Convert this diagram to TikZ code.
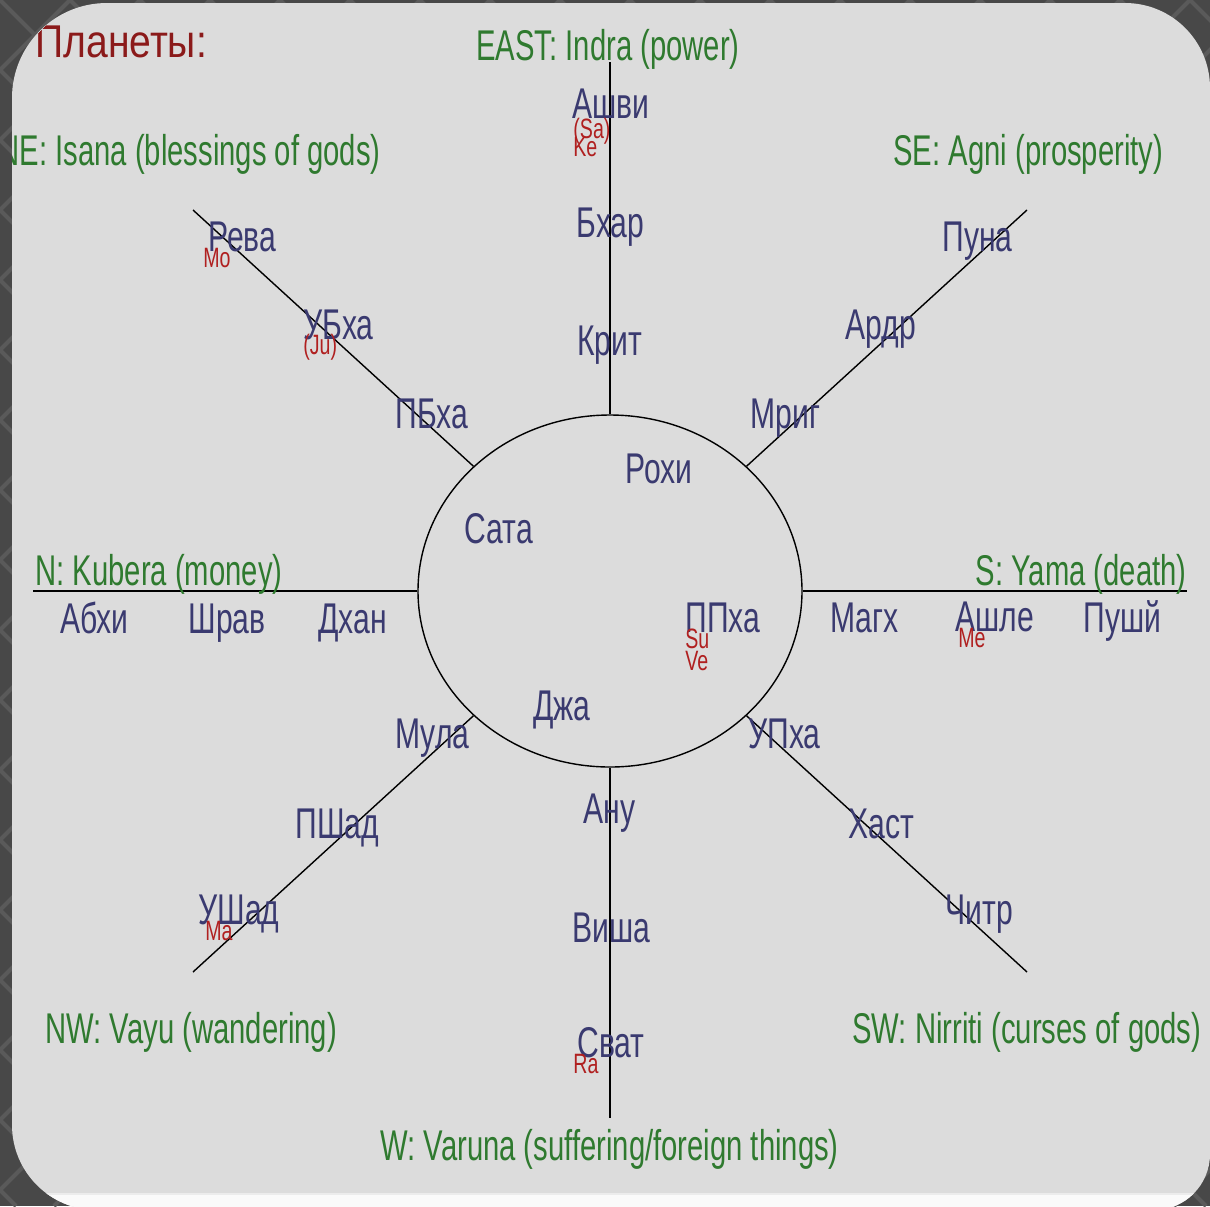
\documentclass[tikz,border=0pt]{standalone}
\usepackage{fontspec}
\setmainfont{Liberation Sans}
\newfontfamily\labfont[FakeStretch=0.7]{Liberation Sans}
\newfontfamily\dirfont[FakeStretch=0.68]{Liberation Sans}
\newfontfamily\planfont[FakeStretch=0.85]{Liberation Sans}
\usetikzlibrary{shapes.geometric}
\definecolor{navy}{HTML}{3A3A70}
\definecolor{dirgreen}{HTML}{2F7A2F}
\definecolor{plred}{HTML}{B02020}
\definecolor{titlered}{HTML}{8B1A1A}
\definecolor{panel}{HTML}{DCDCDC}
\definecolor{bgdark}{HTML}{484848}
\definecolor{bgline}{HTML}{5A5A5A}
\begin{document}
\begin{tikzpicture}[x=0.5pt,y=-0.5pt,
  nak/.style={font=\labfont\fontsize{21.5}{22}\selectfont, text=navy, inner sep=0pt, anchor=base west},
  pl/.style={font=\labfont\fontsize{14}{15}\selectfont, text=plred, inner sep=0pt, anchor=base west},
  dir/.style={font=\dirfont\fontsize{21.5}{22}\selectfont, text=dirgreen, inner sep=0pt, anchor=base west},
  spoke/.style={draw=black, line width=0.7pt}]
\useasboundingbox (0,0) rectangle (1210,1206);
% background
\fill[bgdark] (0,0) rectangle (1210,1206);
\begin{scope}
\clip (0,0) rectangle (1210,1206);
\foreach \k in {-1260,-1190,...,2460}{
  \draw[bgline, line width=2pt] (\k,0) -- ++(1206,1206);
  \draw[bgline, line width=2pt] (\k,0) -- ++(-1206,1206);
}
\end{scope}
% panel
\def\panelpath{(12,98) arc[start angle=180,end angle=270,radius=95] -- (1125,3) arc[start angle=270,end angle=360,radius=85] -- (1210,1154) arc[start angle=0,end angle=90,radius=56] -- (97,1210) arc[start angle=90,end angle=180,radius=85] -- cycle}
\fill[panel] \panelpath;
\begin{scope}
\clip \panelpath;
\fill[white!96!gray] (0,1194) rectangle (1220,1220);
\draw[white!85!gray, line width=0.6pt] (0,1194) -- (1220,1194);

% circle
\node[draw=black, line width=0.7pt, ellipse, minimum width=192pt, minimum height=176pt, inner sep=0pt] (c) at (610,591) {};
% spoke ends
\coordinate (eN) at (610,62);
\coordinate (eS) at (610,1118);
\coordinate (eW) at (33,591);
\coordinate (eE) at (1187,591);
\coordinate (eUL) at (193,210);
\coordinate (eUR) at (1027,210);
\coordinate (eLL) at (193,972);
\coordinate (eLR) at (1027,972);
\foreach \e in {eN,eS,eW,eE,eUL,eUR,eLL,eLR}{\draw[spoke] (c) -- (\e);}

% title
\node[font=\planfont\fontsize{23}{24}\selectfont, text=titlered, inner sep=0pt, anchor=base west] (title) at (35,57) {Планеты:};

% directions
\node[dir] (dE) at (476,60) {EAST: Indra (power)};
\node[dir, anchor=base east] (dNE) at (381,165) {NE: Isana (blessings of gods)};
\node[dir] (dSE) at (893,165) {SE: Agni (prosperity)};
\node[dir] (dN) at (35,585) {N: Kubera (money)};
\node[dir, anchor=base east] (dS) at (1187,585) {S: Yama (death)};
\node[dir] (dNW) at (45,1043) {NW: Vayu (wandering)};
\node[dir] (dSW) at (852,1043) {SW: Nirriti (curses of gods)};
\node[dir] (dW) at (380,1160) {W: Varuna (suffering/foreign things)};

% nakshatras
\node[nak] (n1) at (572,118) {Ашви};
\node[nak] (n2) at (576,237) {Бхар};
\node[nak] (n3) at (577,355) {Крит};
\node[nak] (n4) at (208,251) {Рева};
\node[nak] (n5) at (303,339) {УБха};
\node[nak] (n6) at (395,428) {ПБха};
\node[nak] (n7) at (942,251) {Пуна};
\node[nak] (n8) at (845,339) {Ардр};
\node[nak] (n9) at (750,428) {Мриг};
\node[nak] (n10) at (625,483) {Рохи};
\node[nak] (n11) at (464,543) {Сата};
\node[nak] (n12) at (685,632) {ППха};
\node[nak] (n13) at (533,720) {Джа};
\node[nak] (n14) at (60,633) {Абхи};
\node[nak] (n15) at (188,633) {Шрав};
\node[nak] (n16) at (318,633) {Дхан};
\node[nak] (n17) at (830,632) {Магх};
\node[nak] (n18) at (955,631) {Ашле};
\node[nak] (n19) at (1083,632) {Пушй};
\node[nak] (n20) at (395,748) {Мула};
\node[nak] (n21) at (748,748) {УПха};
\node[nak] (n22) at (295,838) {ПШад};
\node[nak] (n23) at (583,823) {Ану};
\node[nak] (n24) at (848,838) {Хаст};
\node[nak] (n25) at (198,924) {УШад};
\node[nak] (n26) at (572,942) {Виша};
\node[nak] (n27) at (945,924) {Читр};
\node[nak] (n28) at (577,1057) {Сват};

% planets
\node[pl] (pSa) at (573,138) {(Sa)};
\node[pl] (pKe) at (573,156) {Ke};
\node[pl] (pMo) at (203,267) {Mo};
\node[pl] (pJu) at (303,354) {(Ju)};
\node[pl] (pSu) at (685,648) {Su};
\node[pl] (pVe) at (685,670) {Ve};
\node[pl] (pMe) at (958,647) {Me};
\node[pl] (pMa) at (205,940) {Ma};
\node[pl] (pRa) at (573,1073) {Ra};
\end{scope}
\end{tikzpicture}
\end{document}
